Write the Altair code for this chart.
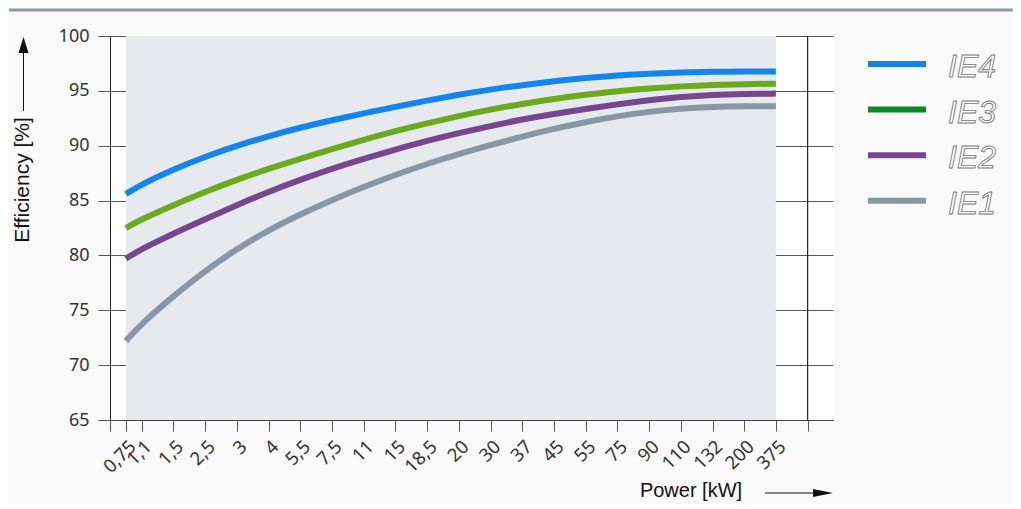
import json
import altair as alt
import pandas as pd

# ---- data ----
power_labels = ["0,75", "1,1", "1,5", "2,5", "3", "4", "5,5", "7,5", "11", "15", "18,5",
                "20", "30", "37", "45", "55", "75", "90", "110", "132", "200", "375"]
classes = ["IE1", "IE2", "IE3", "IE4"]
ie4 = [85.6, 86.5, 87.85, 89.0, 90.0, 90.88, 91.65, 92.33, 92.95, 93.55, 94.12,
       94.65, 95.12, 95.53, 95.88, 96.18, 96.42, 96.58, 96.68, 96.74, 96.76, 96.77]
ie3 = [82.5, 83.3, 84.6, 85.8, 86.9, 87.9, 88.8, 89.7, 90.55, 91.35, 92.05,
       92.7, 93.3, 93.82, 94.27, 94.65, 94.97, 95.22, 95.42, 95.55, 95.62, 95.65]
ie2 = [79.7, 80.6, 82.0, 83.3, 84.6, 85.8, 86.9, 87.9, 88.8, 89.65, 90.45,
       91.15, 91.8, 92.4, 92.9, 93.35, 93.78, 94.15, 94.45, 94.65, 94.73, 94.75]
ie1 = [72.2, 73.8, 76.3, 78.6, 80.6, 82.3, 83.75, 85.05, 86.25, 87.35, 88.35,
       89.25, 90.05, 90.85, 91.55, 92.15, 92.7, 93.1, 93.4, 93.55, 93.6, 93.6]
y_ticks = [65, 70, 75, 80, 85, 90, 95, 100]

line_colors = ["#8797a5", "#76478f", "#6aaa1c", "#1485ee"]      # IE1..IE4
legend_colors = ["#1482ea", "#0b8a24", "#76478f", "#8797a5"]    # IE4..IE1

# ---- build table ----
pos = [0.5 if i == 0 else float(i) for i in range(len(power_labels))]
series = {"IE1": ie1, "IE2": ie2, "IE3": ie3, "IE4": ie4}
rows = []
for cls in classes:
    for p, v in zip(pos, series[cls]):
        rows.append({"pos": p, "eff": v, "cls": cls})
df = pd.DataFrame(rows)
one = pd.DataFrame({"k": [0]})

last = len(power_labels)          # position of the closing frame line
tick_vals = [0.0] + pos + [float(last)]
tick_labs = [""] + power_labels + [""]
label_expr = f"{json.dumps(tick_labs)}[indexof({json.dumps(tick_vals)}, datum.value)]"

x_scale = alt.Scale(domain=[0, last + 0.8], nice=False, zero=False)
y_scale = alt.Scale(domain=[65, 100], nice=False, zero=False)

x_axis = alt.Axis(values=tick_vals, labelExpr=label_expr, labelAngle=-45, title=None,
                  grid=False, domainColor="#444", tickColor="#555", tickSize=11,
                  labelFont="Noto Sans", labelFontSize=18.5, labelColor="#333",
                  labelOverlap=False, labelBound=False, labelFlush=False, labelPadding=6)
y_axis = alt.Axis(values=y_ticks, title=None, grid=True, gridColor="#555", gridWidth=1,
                  domainColor="#222", tickColor="#555", tickSize=12,
                  labelFont="Noto Sans", labelFontSize=18, labelColor="#333", labelPadding=9)

band = alt.Chart(one).mark_rect(color="#e6e9ee").encode(
    x=alt.XDatum(pos[0], type="quantitative", scale=x_scale, axis=x_axis),
    x2=alt.X2Datum(pos[-1]),
    y=alt.YDatum(65, type="quantitative", scale=y_scale, axis=y_axis),
    y2=alt.Y2Datum(100),
)

frame = alt.Chart(one).mark_rule(color="#222", strokeWidth=1.2).encode(
    x=alt.XDatum(float(last), type="quantitative", scale=x_scale, axis=x_axis),
    y=alt.YDatum(65, type="quantitative", scale=y_scale, axis=y_axis),
    y2=alt.Y2Datum(100),
)

lines = alt.Chart(df).mark_line(interpolate="basis", strokeWidth=6, strokeCap="butt").encode(
    x=alt.X("pos:Q", scale=x_scale, axis=x_axis),
    y=alt.Y("eff:Q", scale=y_scale, axis=y_axis),
    color=alt.Color("cls:N", scale=alt.Scale(domain=classes, range=line_colors), legend=None),
    order=alt.Order("pos:Q"),
)

# ---- decorations (pixel positions relative to plot origin) ----
deco = []
deco.append(alt.Chart(one).mark_rule(color="#8c9ba8", strokeWidth=3).encode(
    x=alt.value(-101), x2=alt.value(905), y=alt.value(-26)))
# y title + arrow
deco.append(alt.Chart(one).mark_text(text="Efficiency [%]", angle=270, font="Liberation Sans",
                                      fontSize=21, color="#111", align="center", baseline="middle").encode(
    x=alt.value(-87), y=alt.value(144)))
deco.append(alt.Chart(one).mark_rule(color="#111", strokeWidth=1).encode(
    x=alt.value(-86.5), y=alt.value(15), y2=alt.value(75)))
deco.append(alt.Chart(one).mark_point(shape="M0,-1L0.625,1L-0.625,1Z", size=256, filled=True,
                                       color="#111", opacity=1, strokeWidth=0).encode(
    x=alt.value(-86.5), y=alt.value(9)))
# x title + arrow
deco.append(alt.Chart(one).mark_text(text="Power [kW]", font="Liberation Sans", fontSize=20,
                                      color="#111", align="center", baseline="middle").encode(
    x=alt.value(581), y=alt.value(455)))
deco.append(alt.Chart(one).mark_rule(color="#111", strokeWidth=1).encode(
    x=alt.value(655), x2=alt.value(706), y=alt.value(457)))
deco.append(alt.Chart(one).mark_point(shape="M1,0L-1,0.4L-1,-0.4Z", size=400, filled=True,
                                       color="#111", opacity=1, strokeWidth=0).encode(
    x=alt.value(713), y=alt.value(457)))
# legend
for i, (name, col) in enumerate(zip(classes[::-1], legend_colors)):
    yy = 28 + i * 45.6
    deco.append(alt.Chart(one).mark_rule(color=col, strokeWidth=6).encode(
        x=alt.value(758), x2=alt.value(816), y=alt.value(yy)))
    deco.append(alt.Chart(one).mark_text(text=name, font="Liberation Sans", fontSize=32,
                                          fontStyle="italic", fill="white", stroke="#777",
                                          strokeWidth=0.9, align="left", baseline="middle").encode(
        x=alt.value(838), y=alt.value(yy + 3)))

chart = alt.layer(band, frame, lines, *deco).properties(
    width=723, height=384,
    autosize=alt.AutoSizeParams(type="none"),
    padding={"left": 102, "top": 28, "right": 180, "bottom": 84},
    background="#fafafa",
).configure_view(stroke=None, fill="white")

chart.save("out.html", embed_options={"renderer": "svg", "actions": False})
